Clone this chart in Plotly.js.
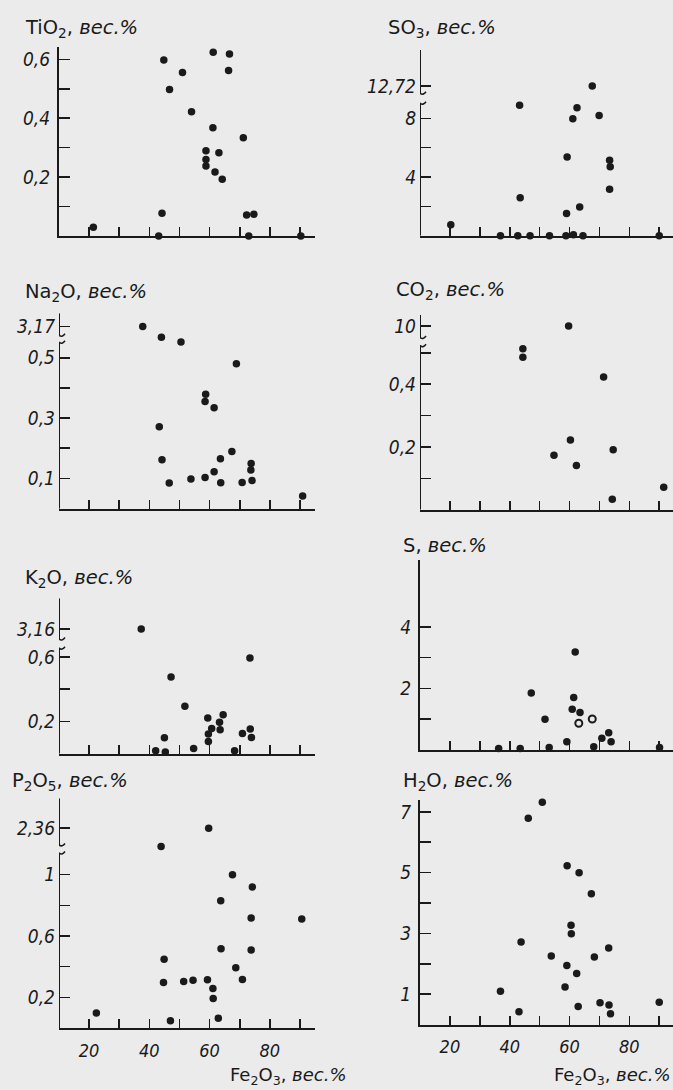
<!DOCTYPE html>
<html>
<head>
<meta charset="utf-8">
<script src="https://cdn.plot.ly/plotly-3.0.1.min.js"></script>
<style>
  html, body { margin: 0; padding: 0; background: #ebebeb; }
  #chart { width: 673px; height: 1090px; }
</style>
</head>
<body>
<div id="chart"></div>
<script>
const W = 673, H = 1090;
const INK = '#1a1a1a';
const BG = '#ebebeb';
const TICK_FONT = 'DejaVu Sans Condensed, DejaVu Sans, sans-serif';
const TITLE_FONT = 'DejaVu Sans, sans-serif';

// ---- Samples: Fe2O3 content (x) vs. component content (y), wt. % ----
const feTiO2 = [21.4, 43.1, 44.2, 44.8, 46.7, 51.0, 54.0, 61.2, 61.1, 58.8, 58.8, 58.8, 61.8, 63.1, 64.2, 66.6, 66.3, 71.2, 72.3, 74.7, 73.0, 90.3];
const TiO2   = [0.03, 0, 0.077, 0.598, 0.498, 0.555, 0.422, 0.624, 0.368, 0.29, 0.26, 0.238, 0.217, 0.283, 0.193, 0.618, 0.562, 0.334, 0.071, 0.074, 0, 0];

const feSO3 = [20.3, 36.9, 42.7, 46.8, 43.3, 43.5, 53.3, 58.8, 59.0, 59.2, 61.3, 64.5, 61.1, 62.5, 63.4, 67.6, 69.9, 73.4, 73.6, 73.4, 90.0];
const SO3   = [0.75, 0, 0, 0, 8.89, 2.59, 0, 0, 1.52, 5.36, 0.07, 0, 7.98, 8.73, 1.95, 12.72, 8.2, 5.14, 4.7, 3.16, 0];

const feNa2O = [37.8, 44.0, 50.5, 68.9, 58.7, 58.5, 61.5, 43.3, 44.2, 46.6, 53.8, 58.5, 61.5, 63.6, 63.7, 67.4, 70.8, 73.8, 73.7, 74.1, 90.9];
const Na2O   = [3.17, 0.568, 0.552, 0.48, 0.379, 0.355, 0.334, 0.271, 0.162, 0.085, 0.098, 0.103, 0.122, 0.165, 0.086, 0.189, 0.087, 0.15, 0.128, 0.093, 0.042];

const feCO2 = [59.7, 44.4, 44.4, 71.4, 60.3, 54.8, 74.6, 62.3, 74.3, 91.5];
const CO2   = [10, 0.513, 0.486, 0.423, 0.222, 0.174, 0.191, 0.141, 0.033, 0.072];

const feK2O = [37.3, 73.4, 47.2, 51.8, 59.4, 64.5, 63.3, 60.7, 63.5, 59.6, 59.6, 45.0, 42.1, 45.3, 54.7, 68.3, 70.9, 73.5, 73.9];
const K2O   = [3.16, 0.594, 0.476, 0.294, 0.222, 0.242, 0.195, 0.157, 0.149, 0.122, 0.075, 0.099, 0.019, 0.01, 0.033, 0.019, 0.126, 0.153, 0.101];

const feS = [36.3, 43.5, 47.2, 51.8, 53.2, 59.1, 61.9, 61.4, 60.9, 63.5, 68.1, 70.8, 73.1, 73.9, 90.1];
const S   = [0.04, 0.04, 1.85, 0.99, 0.07, 0.26, 3.18, 1.7, 1.32, 1.21, 0.1, 0.37, 0.55, 0.26, 0.07];
// second group (open circles)
const feSOpen = [63.1, 67.6];
const SOpen   = [0.86, 1.0];

const feP2O5 = [22.4, 43.9, 59.7, 44.9, 44.7, 47.0, 51.4, 54.5, 59.3, 61.1, 61.2, 62.9, 63.7, 63.8, 67.6, 68.7, 70.9, 74.2, 73.8, 73.8, 90.6];
const P2O5   = [0.098, 2.24, 2.36, 0.448, 0.296, 0.048, 0.304, 0.311, 0.315, 0.257, 0.193, 0.063, 0.83, 0.517, 1.0, 0.393, 0.317, 0.92, 0.717, 0.509, 0.711];

const feH2O = [44.6, 50.9, 46.2, 59.2, 63.2, 67.3, 60.5, 60.6, 43.8, 53.9, 68.3, 73.1, 59.1, 62.4, 58.5, 36.9, 43.1, 62.9, 70.2, 73.2, 73.7, 90.0];
const H2O   = [7.5, 7.32, 6.79, 5.23, 5.0, 4.31, 3.27, 2.99, 2.72, 2.26, 2.23, 2.52, 1.95, 1.68, 1.24, 1.1, 0.43, 0.6, 0.72, 0.65, 0.36, 0.74];

// ---- Tick marks: labelled ticks, then unlabelled ones ----
const feTicks  = [20, 40, 60, 80];
const feLabels = ['20', '40', '60', '80'];
const feMinor  = [30, 50, 70, 90];

const tickTiO2 = [0.2, 0.4, 0.6],       textTiO2 = ['0,2', '0,4', '0,6'],        minorTiO2 = [0.1, 0.3, 0.5];
const tickSO3  = [4, 8, 12.72],         textSO3  = ['4', '8', '12,72'],          minorSO3  = [2, 6];
const tickNa2O = [0.1, 0.3, 0.5, 3.17], textNa2O = ['0,1', '0,3', '0,5', '3,17'], minorNa2O = [0.2, 0.4];
const tickCO2  = [0.2, 0.4, 10],        textCO2  = ['0,2', '0,4', '10'],         minorCO2  = [0.1, 0.3, 0.5];
const tickK2O  = [0.2, 0.6, 3.16],      textK2O  = ['0,2', '0,6', '3,16'],       minorK2O  = [0.4];
const tickS    = [2, 4],                textS    = ['2', '4'],                   minorS    = [1, 3];
const tickP2O5 = [0.2, 0.6, 1, 2.36],   textP2O5 = ['0,2', '0,6', '1', '2,36'],  minorP2O5 = [0.4, 0.8];
const tickH2O  = [1, 3, 5, 7],          textH2O  = ['1', '3', '5', '7'],         minorH2O  = [2, 4, 6];

// ---- Layout geometry (pixels) ----
const cols = [
  { x0: 59,  x1: 315, xmax: 95 },
  { x0: 420, x1: 673, xmax: 94.6 }
];

// Broken value axes: values above `cut` are moved down by `shift`;
// hookHi / hookLo are the two ends of the gap drawn on the axis.
const panels = [
  { x: feTiO2, y: TiO2, col: 0, bottom: 236, top: 47, ymax: 0.642,
    tv: tickTiO2, tt: textTiO2, mv: minorTiO2,
    title: 'TiO<sub>2</sub>, <i>вес.%</i>', tx: 23, ty: 28 },
  { x: feSO3, y: SO3, col: 1, bottom: 235.7, top: 50, ymax: 12.66,
    tv: tickSO3, tt: textSO3, mv: minorSO3,
    title: 'SO<sub>3</sub>, <i>вес.%</i>', tx: 386, ty: 28,
    brk: { cut: 10, shift: 2.52, hookHi: 9.71, hookLo: 9.03 } },
  { x: feNa2O, y: Na2O, col: 0, bottom: 508.7, top: 313.3, ymax: 0.647,
    tv: tickNa2O, tt: textNa2O, mv: minorNa2O,
    title: 'Na<sub>2</sub>O, <i>вес.%</i>', tx: 23, ty: 292,
    brk: { cut: 1, shift: 2.567, hookHi: 0.574, hookLo: 0.551 } },
  { x: feCO2, y: CO2, col: 1, bottom: 509.7, top: 315, ymax: 0.621,
    tv: tickCO2, tt: textCO2, mv: minorCO2,
    title: 'CO<sub>2</sub>, <i>вес.%</i>', tx: 394, ty: 291,
    brk: { cut: 1, shift: 9.414, hookHi: 0.549, hookLo: 0.523 } },
  { x: feK2O, y: K2O, col: 0, bottom: 753.7, top: 598.3, ymax: 0.965,
    tv: tickK2O, tt: textK2O, mv: minorK2O,
    title: 'K<sub>2</sub>O, <i>вес.%</i>', tx: 23, ty: 578,
    brk: { cut: 1, shift: 2.385, hookHi: 0.712, hookLo: 0.655 } },
  { x: feS, y: S, col: 1, bottom: 749.7, top: 560, ymax: 6.18,
    tv: tickS, tt: textS, mv: minorS,
    title: 'S, <i>вес.%</i>', tx: 401, ty: 545,
    open: { x: feSOpen, y: SOpen } },
  { x: feP2O5, y: P2O5, col: 0, bottom: 1028, top: 798.3, ymax: 1.498,
    tv: tickP2O5, tt: textP2O5, mv: minorP2O5,
    title: 'P<sub>2</sub>O<sub>5</sub>, <i>вес.%</i>', tx: 10, ty: 781,
    brk: { cut: 1.5, shift: 1.057, hookHi: 1.194, hookLo: 1.141 }, bottomRow: true },
  { x: feH2O, y: H2O, col: 1, bottom: 1024.7, top: 800, ymax: 7.39,
    tv: tickH2O, tt: textH2O, mv: minorH2O,
    title: 'H<sub>2</sub>O, <i>вес.%</i>', tx: 401, ty: 781, bottomRow: true }
];

const traces = [];
const layout = {
  width: W, height: H,
  margin: { l: 0, r: 0, t: 0, b: 0 },
  paper_bgcolor: BG, plot_bgcolor: BG,
  showlegend: false,
  font: { family: TICK_FONT, color: INK },
  annotations: [], shapes: []
};

const tickFontY = { family: TICK_FONT, size: 19, color: INK, style: 'italic' };
const tickFontX = { family: TICK_FONT, size: 18, color: INK, style: 'italic' };
const AXIS_W = 2;

panels.forEach((p, i) => {
  const n = i + 1;
  const xa = 'xaxis' + (n === 1 ? '' : n), ya = 'yaxis' + (n === 1 ? '' : n);
  const xr = 'x' + (n === 1 ? '' : n), yr = 'y' + (n === 1 ? '' : n);
  const c = cols[p.col];
  const toAxis = p.brk ? (v => v > p.brk.cut ? v - p.brk.shift : v) : (v => v);

  // only the bottom row carries Fe2O3 numbers; the others have bare tick marks
  const labelled = !!p.bottomRow;
  layout[xa] = {
    domain: [c.x0 / W, c.x1 / W], range: [10, c.xmax], anchor: yr,
    showline: true, linecolor: INK, linewidth: AXIS_W,
    ticks: 'inside', ticklen: 9, tickwidth: 1.6, tickcolor: INK,
    tickmode: 'array',
    tickvals: labelled ? feTicks : [],
    ticktext: labelled ? feLabels : [],
    minor: { tickmode: 'array', tickvals: labelled ? feMinor : feTicks.concat(feMinor),
             ticks: 'inside', ticklen: 9, tickwidth: 1.6, tickcolor: INK, showgrid: false },
    showticklabels: labelled, tickfont: tickFontX, ticklabelstandoff: 5,
    showgrid: false, zeroline: false, fixedrange: true
  };
  layout[ya] = {
    domain: [1 - p.bottom / H, 1 - p.top / H], range: [0, p.ymax], anchor: xr,
    showline: !p.brk, linecolor: INK, linewidth: AXIS_W,
    ticks: 'inside', ticklen: 11, tickwidth: 1.6, tickcolor: INK,
    tickmode: 'array', tickvals: p.tv.map(toAxis), ticktext: p.tt,
    minor: { tickmode: 'array', tickvals: p.mv.map(toAxis), ticks: 'inside', ticklen: 11, tickwidth: 1.6, tickcolor: INK, showgrid: false },
    tickfont: tickFontY, ticklabelstandoff: 3,
    showgrid: false, zeroline: false, fixedrange: true
  };

  traces.push({
    type: 'scatter', mode: 'markers', xaxis: xr, yaxis: yr,
    x: p.x, y: p.y.map(toAxis), cliponaxis: false, hoverinfo: 'skip',
    marker: { size: 7.5, color: INK, line: { width: 0 } }
  });
  if (p.open) {
    traces.push({
      type: 'scatter', mode: 'markers', xaxis: xr, yaxis: yr,
      x: p.open.x, y: p.open.y.map(toAxis), cliponaxis: false, hoverinfo: 'skip',
      marker: { size: 7, symbol: 'circle-open', color: INK, line: { width: 2, color: INK } }
    });
  }

  // broken value axis: two line pieces with wavy ends at the gap
  if (p.brk) {
    [[0, p.brk.hookLo], [p.brk.hookHi, p.ymax]].forEach(([a, b]) => {
      layout.shapes.push({
        type: 'line', xref: xr, yref: yr, x0: 10, x1: 10, y0: a, y1: b,
        line: { color: INK, width: AXIS_W }, layer: 'above'
      });
    });
    [p.brk.hookHi, p.brk.hookLo].forEach(yv => {
      layout.shapes.push({
        type: 'path', xref: xr, yref: yr, xsizemode: 'pixel', ysizemode: 'pixel',
        xanchor: 10, yanchor: yv,
        path: 'M -6 -1.5 Q -3 2.5 0 0 Q 3 -2.5 6 1.5',
        line: { color: INK, width: 1.6 }, layer: 'above'
      });
    });
  }

  layout.annotations.push({
    xref: 'paper', yref: 'paper', x: p.tx / W, y: 1 - p.ty / H,
    xanchor: 'left', yanchor: 'middle', showarrow: false,
    text: p.title, font: { family: TITLE_FONT, size: 19.5, color: INK }
  });
});

// Fe2O3 axis titles under the bottom row
[{ x: 228 }, { x: 552 }].forEach(t => {
  layout.annotations.push({
    xref: 'paper', yref: 'paper', x: t.x / W, y: 1 - 1076 / H,
    xanchor: 'left', yanchor: 'middle', showarrow: false,
    text: 'Fe<sub>2</sub>O<sub>3</sub>, <i>вес.%</i>',
    font: { family: TITLE_FONT, size: 18, color: INK }
  });
});

Plotly.newPlot('chart', traces, layout, { displayModeBar: false, staticPlot: true });
</script>
</body>
</html>
